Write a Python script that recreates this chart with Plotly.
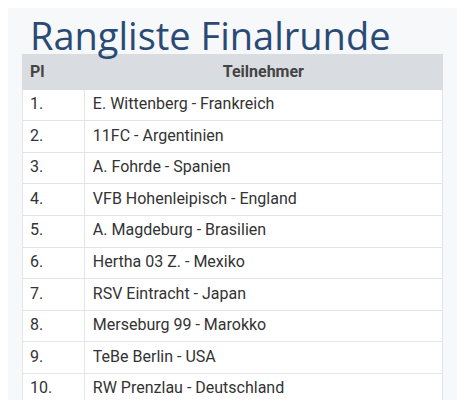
import plotly.graph_objects as go

places = ["1.", "2.", "3.", "4.", "5.", "6.", "7.", "8.", "9.", "10."]
teams = [
    "E. Wittenberg - Frankreich",
    "11FC - Argentinien",
    "A. Fohrde - Spanien",
    "VFB Hohenleipisch - England",
    "A. Magdeburg - Brasilien",
    "Hertha 03 Z. - Mexiko",
    "RSV Eintracht - Japan",
    "Merseburg 99 - Marokko",
    "TeBe Berlin - USA",
    "RW Prenzlau - Deutschland",
]

W, H = 465, 400

fig = go.Figure(go.Table(
    domain=dict(x=[14 / W, 435 / W], y=[0, 1 - 46 / H]),
    columnwidth=[63, 358],
    header=dict(
        values=["<b>Pl</b>", "<b>Teilnehmer</b>"],
        align=["left", "center"],
        fill_color="#d9dde1",
        line_color="#d9dde1",
        font=dict(family="Roboto", size=16, color="#444"),
        height=29,
    ),
    cells=dict(
        values=[places, teams],
        align="left",
        fill_color="white",
        line_color="#e2e4e7",
        font=dict(family="Roboto", size=16, color="#333"),
        height=31.6,
    ),
))

fig.add_annotation(
    text="Rangliste Finalrunde", xref="paper", yref="paper",
    x=20 / W, y=1 - 27 / H, xanchor="left", yanchor="middle",
    showarrow=False, font=dict(family="Open Sans", size=38, color="#2a4a76"),
)

fig.update_layout(
    width=W, height=H, margin=dict(l=0, r=0, t=0, b=0),
    paper_bgcolor="#f7f8fa", plot_bgcolor="#f7f8fa",
)

fig.write_html("out.html")
